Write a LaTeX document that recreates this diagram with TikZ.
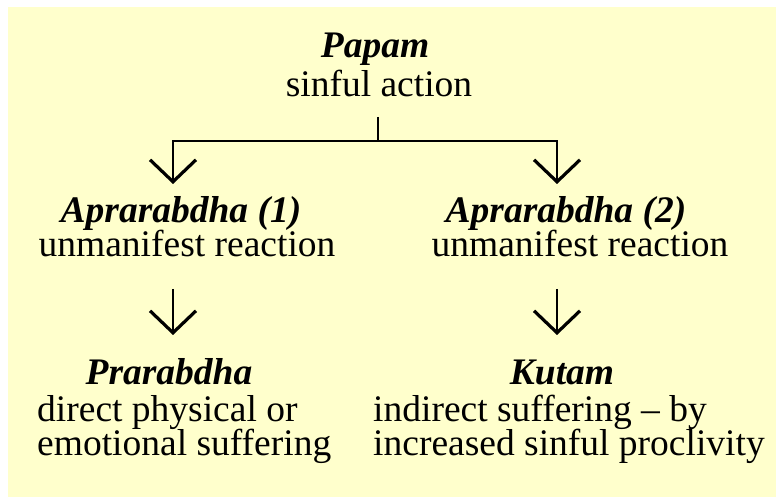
\documentclass[tikz,border=0pt]{standalone}
\usepackage{fontspec}
\setmainfont{Liberation Serif}
\usetikzlibrary{arrows.meta}
\usetikzlibrary{positioning}
\definecolor{paper}{RGB}{255,255,204}

\begin{document}
\begin{tikzpicture}[x=1pt,y=-1pt,every node/.style={inner sep=0pt,font=\fontsize{37.5}{40}\selectfont},
  title/.style={font=\fontsize{37.5}{40}\selectfont\bfseries\itshape},
  vee/.style={line width=2.5pt,-{Straight Barb[length=22pt,width=46pt,line width=3.2pt]}}]
  \useasboundingbox (0,0) rectangle (776,502);
  \fill[paper] (8,7) rectangle (776,497);

  \node[title,anchor=base] (papam) at (375,58){Papam};
  \node[anchor=base] (sinful) at (379,97){sinful action};

  \node[title,anchor=base] (apr1) at (181,223){Aprarabdha (1)};
  \node[anchor=base] (unm1) at (187,257){unmanifest reaction};
  \node[title,anchor=base] (apr2) at (566,223){Aprarabdha (2)};
  \node[anchor=base] (unm2) at (580,257){unmanifest reaction};

  \node[title,anchor=base] (prar) at (169,384){Prarabdha};
  \node[anchor=base west] (direct) at (37,421){direct physical or};
  \node[anchor=base west] (emot) at (37,455){emotional suffering};
  \node[title,anchor=base] (kutam) at (562,384){Kutam};
  \node[anchor=base west] (indir) at (373,421){indirect suffering -- by};
  \node[anchor=base west] (incr) at (373,455){increased sinful proclivity};

  \coordinate (stem) at (378,117);
  \coordinate (fork) at (378,141);
  \coordinate (tip1) at (173,184);
  \coordinate (tip2) at (557,184);
  \coordinate (from3) at (173,289);
  \coordinate (tip3) at (173,335);
  \coordinate (from4) at (557,289);
  \coordinate (tip4) at (557,335);

  \draw[line width=2.5pt](stem)--(fork);
  \draw[vee](fork)-|(tip1);
  \draw[vee](fork)-|(tip2);
  \draw[vee](from3)--(tip3);
  \draw[vee](from4)--(tip4);
\end{tikzpicture}
\end{document}
